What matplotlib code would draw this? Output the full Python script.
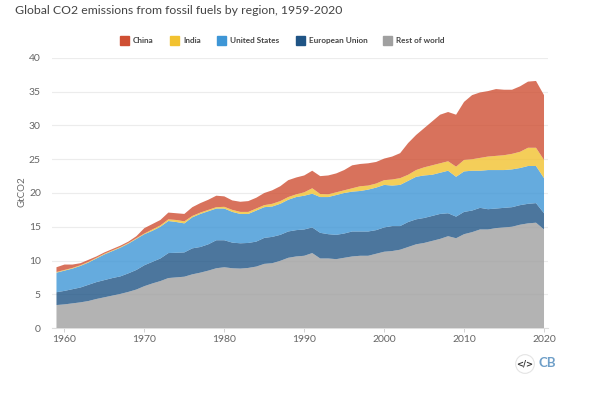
import numpy as np
import matplotlib
matplotlib.use("Agg")
import matplotlib.pyplot as plt
from matplotlib.patches import Rectangle, Circle

years = list(range(1959, 2021))

# upper edge of each band (GtCO2)
top_rest = [3.4, 3.5, 3.65, 3.8, 4.0, 4.3, 4.55, 4.8, 5.05, 5.35, 5.7,
            6.2, 6.6, 6.95, 7.4, 7.5, 7.6, 7.95, 8.2, 8.5, 8.85,
            9.0, 8.85, 8.8, 8.9, 9.1, 9.5, 9.6, 9.95, 10.4, 10.6,
            10.7, 11.1, 10.3, 10.3, 10.2, 10.4, 10.6, 10.7, 10.7, 11.0,
            11.3, 11.4, 11.6, 12.0, 12.4, 12.6, 12.9, 13.2, 13.6, 13.3,
            13.9, 14.2, 14.6, 14.6, 14.8, 14.9, 15.0, 15.3, 15.5, 15.6,
            14.6]
top_eu = [5.3, 5.5, 5.75, 6.0, 6.4, 6.8, 7.1, 7.4, 7.65, 8.1, 8.6,
          9.3, 9.8, 10.3, 11.1, 11.15, 11.2, 11.8, 12.0, 12.4, 13.0,
          13.0, 12.65, 12.55, 12.6, 12.8, 13.35, 13.5, 13.8, 14.3, 14.5,
          14.6, 14.9, 14.1, 13.9, 13.8, 14.0, 14.3, 14.3, 14.3, 14.5,
          14.9, 15.1, 15.1, 15.7, 16.1, 16.3, 16.6, 16.9, 17.0, 16.5,
          17.2, 17.4, 17.8, 17.6, 17.7, 17.8, 17.9, 18.2, 18.4, 18.5,
          17.0]
top_us = [8.2, 8.5, 8.8, 9.2, 9.7, 10.3, 10.9, 11.4, 11.9, 12.5, 13.2,
          13.9, 14.4, 15.0, 15.85, 15.7, 15.5, 16.4, 16.9, 17.3, 17.7,
          17.7, 17.2, 16.9, 16.9, 17.4, 17.9, 18.0, 18.4, 19.0, 19.4,
          19.6, 19.9, 19.4, 19.4, 19.7, 20.0, 20.2, 20.3, 20.5, 20.8,
          21.2, 21.1, 21.2, 21.8, 22.4, 22.6, 22.7, 23.0, 23.3, 22.4,
          23.2, 23.3, 23.3, 23.4, 23.4, 23.4, 23.5, 23.7, 24.0, 24.0,
          22.2]
top_india = [8.3, 8.6, 8.9, 9.3, 9.8, 10.4, 11.0, 11.5, 12.0, 12.6, 13.3,
             14.0, 14.6, 15.2, 16.1, 16.0, 15.8, 16.6, 17.1, 17.5, 17.9,
             17.95, 17.5, 17.2, 17.2, 17.7, 18.2, 18.4, 18.8, 19.4, 19.8,
             20.1, 20.7, 19.85, 19.8, 20.1, 20.4, 20.7, 21.0, 21.1, 21.4,
             21.9, 22.0, 22.2, 22.7, 23.4, 23.8, 24.1, 24.4, 24.7, 23.9,
             24.9, 25.0, 25.2, 25.4, 25.5, 25.6, 25.8, 26.1, 26.7, 26.7,
             24.9]
top_china = [9.0, 9.4, 9.4, 9.6, 10.1, 10.6, 11.2, 11.7, 12.2, 12.8, 13.6,
             14.8, 15.4, 16.0, 17.1, 17.0, 16.9, 17.9, 18.5, 19.0, 19.6,
             19.5, 18.9, 18.7, 18.8, 19.3, 20.0, 20.4, 21.0, 21.9, 22.3,
             22.6, 23.3, 22.5, 22.6, 22.9, 23.4, 24.1, 24.3, 24.4, 24.6,
             25.1, 25.4, 25.9, 27.4, 28.6, 29.6, 30.6, 31.6, 32.0, 31.6,
             33.5, 34.5, 34.9, 35.1, 35.4, 35.3, 35.3, 35.8, 36.5, 36.6,
             34.5]

regions = ["China", "India", "United States", "European Union", "Rest of world"]
colors = ["#cf4f33", "#f2c230", "#3e96d6", "#1f5485", "#a0a0a0"]
x_ticks = [1960, 1970, 1980, 1990, 2000, 2010, 2020]
y_ticks = [0, 5, 10, 15, 20, 25, 30, 35, 40]

plt.rcParams["font.family"] = "Lato"
W, H = 600, 400
grey = "#666666"

fig = plt.figure(figsize=(6, 4), dpi=100)
ax = fig.add_axes([52 / W, 1 - 328 / H, (548 - 52) / W, 270 / H])

# bottom-up stack
rest = np.array(top_rest)
eu = np.array(top_eu) - rest
us = np.array(top_us) - np.array(top_eu)
india = np.array(top_india) - np.array(top_us)
china = np.array(top_china) - np.array(top_india)
ax.stackplot(years, rest, eu, us, india, china,
             colors=colors[::-1], alpha=0.8, linewidth=0, zorder=3)

ax.set_xlim(1958.44, 2020.5)
ax.set_ylim(0, 40)
ax.set_xticks(x_ticks)
ax.set_yticks(y_ticks)
ax.grid(axis="y", color="#ececec", linewidth=0.8, zorder=0)
ax.tick_params(axis="x", length=3, width=0.6, color="#cccccc", labelcolor=grey,
               labelsize=7.5, pad=2)
ax.tick_params(axis="y", length=0, labelcolor=grey, labelsize=7.5, pad=8)
for name in ["top", "right", "left"]:
    ax.spines[name].set_visible(False)
ax.spines["bottom"].set_color("#dddddd")

fig.text(22 / W, 1 - 192 / H, "GtCO2", fontsize=7, color=grey, rotation=90,
         va="center", ha="center")
fig.text(15 / W, 1 - 11 / H, "Global CO2 emissions from fossil fuels by region, 1959-2020",
         fontsize=8.85, color="#444444", va="center", ha="left")

# legend laid out by hand
swatch_x = [120, 170, 217, 296, 383]
for sx, label, color in zip(swatch_x, regions, colors):
    fig.patches.append(Rectangle((sx / W, 1 - 44.5 / H), 8.5 / W, 8.5 / H, color=color,
                                 transform=fig.transFigure, figure=fig))
    fig.text((sx + 13) / W, 1 - 40.5 / H, label, fontsize=5.9, fontweight="bold",
             color="#444444", va="center", ha="left")

# Carbon Brief marks
logo_ax = fig.add_axes([514 / W, 1 - 375 / H, 22 / W, 22 / H])
logo_ax.axis("off")
logo_ax.set_xlim(-1, 1)
logo_ax.set_ylim(-1, 1)
logo_ax.add_patch(Circle((0, 0), 0.85, facecolor="white", edgecolor="#e4e4e4", linewidth=0.8))
logo_ax.text(0, 0, "</>", ha="center", va="center", fontsize=6, fontweight="bold",
             color="#333333", family="DejaVu Sans")
fig.text(547.5 / W, 1 - 363 / H, "CB", fontsize=9.5, fontweight="bold", color="#6f9fc8",
         va="center", ha="center")

fig.savefig("out.png", dpi=100)
